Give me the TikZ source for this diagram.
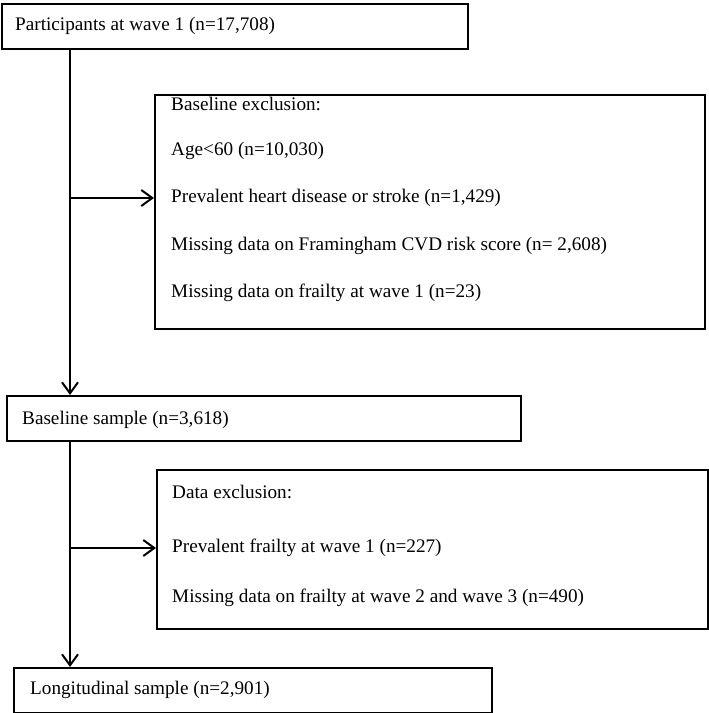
\documentclass[tikz,border=0pt]{standalone}
\usepackage{fontspec}
\setmainfont{Liberation Serif}
\usetikzlibrary{arrows.meta}

\tikzset{
  box/.style={draw,line width=2.1bp,rectangle,inner sep=0pt,anchor=north west},
  lbl/.style={anchor=west,inner sep=0pt,font=\fontsize{19.2bp}{22bp}\selectfont},
  arr/.style={line width=2bp,-{Straight Barb[length=11bp,width=16bp,line width=2bp]}}
}

\begin{document}
\begin{tikzpicture}[x=1bp,y=-1bp]
	\useasboundingbox (0,0) rectangle (709,713);

	%boxes
	\node[box,minimum width=466bp,minimum height=45bp] (wave1) at (1,3) {}; %participants
	\node[box,minimum width=550bp,minimum height=234bp] (baseexcl) at (154,94) {}; %baseline exclusion
	\node[box,minimum width=514bp,minimum height=45bp] (base) at (6,395) {}; %baseline sample
	\node[box,minimum width=551bp,minimum height=159bp] (dataexcl) at (156,469) {}; %data exclusion
	\node[box,minimum width=478bp,minimum height=45bp] (longit) at (13,667) {}; %longitudinal sample

	%texts
	\node[lbl] (wave1T) at (15,26) {Participants at wave 1 (n=17,708)};
	\node[lbl] (baseexclT) at (171,104) {Baseline exclusion:};
	\node[lbl] (age) at (171,151) {Age<60 (n=10,030)};
	\node[lbl] (heart) at (171,198) {Prevalent heart disease or stroke (n=1,429)};
	\node[lbl] (cvd) at (171,246) {Missing data on Framingham CVD risk score (n= 2,608)};
	\node[lbl] (frail1) at (171,293) {Missing data on frailty at wave 1 (n=23)};
	\node[lbl] (baseT) at (22,420) {Baseline sample (n=3,618)};
	\node[lbl] (dataexclT) at (172,492) {Data exclusion:};
	\node[lbl] (prevfrail) at (172,548) {Prevalent frailty at wave 1 (n=227)};
	\node[lbl] (frail23) at (172,598) {Missing data on frailty at wave 2 and wave 3 (n=490)};
	\node[lbl] (longitT) at (30,690) {Longitudinal sample (n=2,901)};

	%arrows
	\coordinate (spine1) at (70,0);
	\draw[arr] (wave1.south -| spine1) -- (base.north -| spine1); %down to baseline
	\draw[arr] (spine1 |- heart) -- (baseexcl.west |- heart); %exclusion 1
	\draw[arr] (base.south -| spine1) -- (longit.north -| spine1); %down to longitudinal
	\draw[arr] (spine1 |- prevfrail) -- (dataexcl.west |- prevfrail); %exclusion 2
\end{tikzpicture}
\end{document}
